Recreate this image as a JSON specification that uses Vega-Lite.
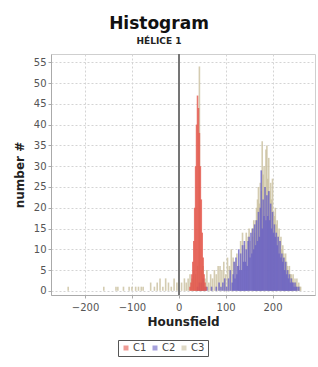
{
  "$schema": "https://vega.github.io/schema/vega-lite/v6.json",
  "autosize": "none",
  "width": 264,
  "height": 241,
  "padding": {"left": 51, "top": 54, "right": 3, "bottom": 72},
  "background": "white",
  "title": {"text": "Histogram", "subtitle": "HÉLICE 1", "font": "DejaVu Sans", "fontSize": 17, "fontWeight": "bold", "color": "#111", "subtitleFont": "DejaVu Sans", "subtitleFontSize": 9, "subtitleFontWeight": "bold", "subtitleColor": "#222", "anchor": "middle", "dx": -24, "offset": 7, "subtitlePadding": 4},
  "config": {
    "view": {"stroke": "#cfcfcf"},
    "axis": {"labelFont": "DejaVu Sans", "labelFontSize": 10, "labelColor": "#555", "titleFont": "DejaVu Sans", "titleFontSize": 12, "titleFontWeight": "bold", "titleColor": "#222", "gridColor": "#d4d4d4", "gridDash": [2, 2], "domainColor": "#aaa", "tickColor": "#aaa", "tickSize": 3}
  },
  "data": {"values": [
    {"h": -236, "c": "C3", "n": 1}, {"h": -160, "c": "C3", "n": 1}, {"h": -134, "c": "C3", "n": 1}, {"h": -130, "c": "C3", "n": 1}, {"h": -118, "c": "C3", "n": 1}, {"h": -106, "c": "C3", "n": 1}, {"h": -100, "c": "C3", "n": 1}, {"h": -92, "c": "C3", "n": 1}, {"h": -86, "c": "C3", "n": 1}, {"h": -80, "c": "C3", "n": 1}, {"h": -76, "c": "C3", "n": 1}, {"h": -60, "c": "C3", "n": 2}, {"h": -52, "c": "C3", "n": 1}, {"h": -46, "c": "C3", "n": 2}, {"h": -40, "c": "C3", "n": 3}, {"h": -34, "c": "C3", "n": 1}, {"h": -28, "c": "C3", "n": 3}, {"h": -22, "c": "C3", "n": 2}, {"h": -16, "c": "C3", "n": 1}, {"h": -10, "c": "C3", "n": 3}, {"h": -4, "c": "C3", "n": 2}, {"h": 0, "c": "C3", "n": 4}, {"h": 6, "c": "C3", "n": 2}, {"h": 12, "c": "C3", "n": 3}, {"h": 16, "c": "C3", "n": 2}, {"h": 20, "c": "C3", "n": 3}, {"h": 24, "c": "C3", "n": 4}, {"h": 28, "c": "C3", "n": 3}, {"h": 32, "c": "C3", "n": 5}, {"h": 36, "c": "C3", "n": 4}, {"h": 40, "c": "C3", "n": 6}, {"h": 44, "c": "C3", "n": 54}, {"h": 48, "c": "C3", "n": 5}, {"h": 52, "c": "C3", "n": 6}, {"h": 56, "c": "C3", "n": 3}, {"h": 60, "c": "C3", "n": 5}, {"h": 64, "c": "C3", "n": 2}, {"h": 68, "c": "C3", "n": 4}, {"h": 72, "c": "C3", "n": 3}, {"h": 76, "c": "C3", "n": 5}, {"h": 80, "c": "C3", "n": 4}, {"h": 84, "c": "C3", "n": 6}, {"h": 88, "c": "C3", "n": 6}, {"h": 92, "c": "C3", "n": 5}, {"h": 96, "c": "C3", "n": 7}, {"h": 100, "c": "C3", "n": 4}, {"h": 104, "c": "C3", "n": 8}, {"h": 108, "c": "C3", "n": 6}, {"h": 112, "c": "C3", "n": 10}, {"h": 116, "c": "C3", "n": 8}, {"h": 120, "c": "C3", "n": 7}, {"h": 124, "c": "C3", "n": 9}, {"h": 128, "c": "C3", "n": 6}, {"h": 132, "c": "C3", "n": 12}, {"h": 136, "c": "C3", "n": 14}, {"h": 140, "c": "C3", "n": 11}, {"h": 144, "c": "C3", "n": 14}, {"h": 148, "c": "C3", "n": 13}, {"h": 150, "c": "C3", "n": 15}, {"h": 152, "c": "C3", "n": 12}, {"h": 156, "c": "C3", "n": 15}, {"h": 158, "c": "C3", "n": 13}, {"h": 160, "c": "C3", "n": 17}, {"h": 162, "c": "C3", "n": 14}, {"h": 164, "c": "C3", "n": 17}, {"h": 166, "c": "C3", "n": 20}, {"h": 168, "c": "C3", "n": 22}, {"h": 170, "c": "C3", "n": 25}, {"h": 172, "c": "C3", "n": 21}, {"h": 174, "c": "C3", "n": 26}, {"h": 176, "c": "C3", "n": 24}, {"h": 178, "c": "C3", "n": 36}, {"h": 180, "c": "C3", "n": 28}, {"h": 182, "c": "C3", "n": 30}, {"h": 184, "c": "C3", "n": 25}, {"h": 186, "c": "C3", "n": 34}, {"h": 188, "c": "C3", "n": 35}, {"h": 190, "c": "C3", "n": 27}, {"h": 192, "c": "C3", "n": 32}, {"h": 194, "c": "C3", "n": 24}, {"h": 196, "c": "C3", "n": 26}, {"h": 198, "c": "C3", "n": 22}, {"h": 200, "c": "C3", "n": 27}, {"h": 202, "c": "C3", "n": 19}, {"h": 204, "c": "C3", "n": 18}, {"h": 206, "c": "C3", "n": 20}, {"h": 208, "c": "C3", "n": 16}, {"h": 210, "c": "C3", "n": 17}, {"h": 212, "c": "C3", "n": 13}, {"h": 214, "c": "C3", "n": 15}, {"h": 216, "c": "C3", "n": 12}, {"h": 218, "c": "C3", "n": 13}, {"h": 220, "c": "C3", "n": 10}, {"h": 222, "c": "C3", "n": 11}, {"h": 224, "c": "C3", "n": 9}, {"h": 226, "c": "C3", "n": 8}, {"h": 228, "c": "C3", "n": 9}, {"h": 230, "c": "C3", "n": 7}, {"h": 232, "c": "C3", "n": 6}, {"h": 234, "c": "C3", "n": 5}, {"h": 236, "c": "C3", "n": 6}, {"h": 238, "c": "C3", "n": 4}, {"h": 240, "c": "C3", "n": 4}, {"h": 242, "c": "C3", "n": 3}, {"h": 244, "c": "C3", "n": 4}, {"h": 246, "c": "C3", "n": 2}, {"h": 248, "c": "C3", "n": 3}, {"h": 250, "c": "C3", "n": 2}, {"h": 252, "c": "C3", "n": 3}, {"h": 254, "c": "C3", "n": 1}, {"h": 256, "c": "C3", "n": 2}, {"h": 258, "c": "C3", "n": 1}, {"h": 260, "c": "C3", "n": 1},
    {"h": 40, "c": "C2", "n": 1}, {"h": 44, "c": "C2", "n": 2}, {"h": 48, "c": "C2", "n": 2}, {"h": 52, "c": "C2", "n": 3}, {"h": 56, "c": "C2", "n": 1}, {"h": 60, "c": "C2", "n": 1}, {"h": 70, "c": "C2", "n": 1}, {"h": 80, "c": "C2", "n": 1}, {"h": 86, "c": "C2", "n": 2}, {"h": 90, "c": "C2", "n": 1}, {"h": 94, "c": "C2", "n": 2}, {"h": 98, "c": "C2", "n": 3}, {"h": 102, "c": "C2", "n": 1}, {"h": 106, "c": "C2", "n": 3}, {"h": 110, "c": "C2", "n": 5}, {"h": 114, "c": "C2", "n": 2}, {"h": 116, "c": "C2", "n": 4}, {"h": 118, "c": "C2", "n": 7}, {"h": 120, "c": "C2", "n": 3}, {"h": 122, "c": "C2", "n": 8}, {"h": 124, "c": "C2", "n": 4}, {"h": 126, "c": "C2", "n": 6}, {"h": 128, "c": "C2", "n": 10}, {"h": 130, "c": "C2", "n": 5}, {"h": 132, "c": "C2", "n": 9}, {"h": 134, "c": "C2", "n": 5}, {"h": 136, "c": "C2", "n": 11}, {"h": 138, "c": "C2", "n": 7}, {"h": 140, "c": "C2", "n": 12}, {"h": 142, "c": "C2", "n": 7}, {"h": 144, "c": "C2", "n": 10}, {"h": 146, "c": "C2", "n": 6}, {"h": 148, "c": "C2", "n": 12}, {"h": 150, "c": "C2", "n": 13}, {"h": 152, "c": "C2", "n": 8}, {"h": 154, "c": "C2", "n": 14}, {"h": 156, "c": "C2", "n": 9}, {"h": 158, "c": "C2", "n": 15}, {"h": 160, "c": "C2", "n": 10}, {"h": 162, "c": "C2", "n": 16}, {"h": 164, "c": "C2", "n": 11}, {"h": 166, "c": "C2", "n": 17}, {"h": 168, "c": "C2", "n": 12}, {"h": 170, "c": "C2", "n": 19}, {"h": 172, "c": "C2", "n": 13}, {"h": 174, "c": "C2", "n": 20}, {"h": 176, "c": "C2", "n": 29}, {"h": 178, "c": "C2", "n": 15}, {"h": 180, "c": "C2", "n": 22}, {"h": 182, "c": "C2", "n": 18}, {"h": 184, "c": "C2", "n": 25}, {"h": 186, "c": "C2", "n": 17}, {"h": 188, "c": "C2", "n": 23}, {"h": 190, "c": "C2", "n": 18}, {"h": 192, "c": "C2", "n": 24}, {"h": 194, "c": "C2", "n": 17}, {"h": 196, "c": "C2", "n": 21}, {"h": 198, "c": "C2", "n": 15}, {"h": 200, "c": "C2", "n": 19}, {"h": 202, "c": "C2", "n": 14}, {"h": 204, "c": "C2", "n": 16}, {"h": 206, "c": "C2", "n": 13}, {"h": 208, "c": "C2", "n": 14}, {"h": 210, "c": "C2", "n": 11}, {"h": 212, "c": "C2", "n": 13}, {"h": 214, "c": "C2", "n": 9}, {"h": 216, "c": "C2", "n": 12}, {"h": 218, "c": "C2", "n": 8}, {"h": 220, "c": "C2", "n": 9}, {"h": 222, "c": "C2", "n": 7}, {"h": 224, "c": "C2", "n": 8}, {"h": 226, "c": "C2", "n": 5}, {"h": 228, "c": "C2", "n": 7}, {"h": 230, "c": "C2", "n": 4}, {"h": 232, "c": "C2", "n": 5}, {"h": 234, "c": "C2", "n": 3}, {"h": 236, "c": "C2", "n": 4}, {"h": 238, "c": "C2", "n": 2}, {"h": 240, "c": "C2", "n": 3}, {"h": 242, "c": "C2", "n": 2}, {"h": 244, "c": "C2", "n": 2}, {"h": 246, "c": "C2", "n": 1}, {"h": 248, "c": "C2", "n": 2}, {"h": 250, "c": "C2", "n": 1}, {"h": 252, "c": "C2", "n": 1}, {"h": 256, "c": "C2", "n": 1},
    {"h": 24, "c": "C1", "n": 1}, {"h": 26, "c": "C1", "n": 2}, {"h": 28, "c": "C1", "n": 4}, {"h": 30, "c": "C1", "n": 7}, {"h": 32, "c": "C1", "n": 12}, {"h": 34, "c": "C1", "n": 20}, {"h": 36, "c": "C1", "n": 30}, {"h": 38, "c": "C1", "n": 40}, {"h": 40, "c": "C1", "n": 47}, {"h": 42, "c": "C1", "n": 44}, {"h": 44, "c": "C1", "n": 38}, {"h": 46, "c": "C1", "n": 30}, {"h": 48, "c": "C1", "n": 22}, {"h": 50, "c": "C1", "n": 14}, {"h": 52, "c": "C1", "n": 8}, {"h": 54, "c": "C1", "n": 4}, {"h": 56, "c": "C1", "n": 2}, {"h": 58, "c": "C1", "n": 1}
  ]},
  "layer": [
    {
      "mark": {"type": "bar", "size": 1.6, "opacity": 0.8},
      "encoding": {
        "x": {"field": "h", "type": "quantitative", "title": "Hounsfield", "scale": {"domain": [-262, 280], "nice": false}, "axis": {"values": [-200, -100, 0, 100, 200], "labelPadding": 4, "titlePadding": 4}},
        "y": {"field": "n", "type": "quantitative", "stack": null, "title": "number #", "scale": {"domain": [-1, 57], "nice": false}, "axis": {"values": [0, 5, 10, 15, 20, 25, 30, 35, 40, 45, 50, 55], "titlePadding": 7}},
        "color": {"field": "c", "type": "nominal", "scale": {"domain": ["C1", "C2", "C3"], "range": ["#e4574c", "#6a62c4", "#c9bf9e"]},
          "legend": {"title": null, "orient": "none", "legendX": 67, "legendY": 286, "direction": "horizontal", "symbolType": "square", "symbolSize": 25, "symbolOpacity": 0.6, "labelFont": "DejaVu Sans", "labelFontSize": 10, "labelColor": "#444", "labelOffset": 2, "strokeColor": "#555", "padding": 3, "columnPadding": 3, "symbolOffset": 0}}
      }
    },
    {
      "mark": {"type": "rule", "color": "#777", "strokeWidth": 1},
      "encoding": {"x": {"datum": 0}}
    }
  ]
}
